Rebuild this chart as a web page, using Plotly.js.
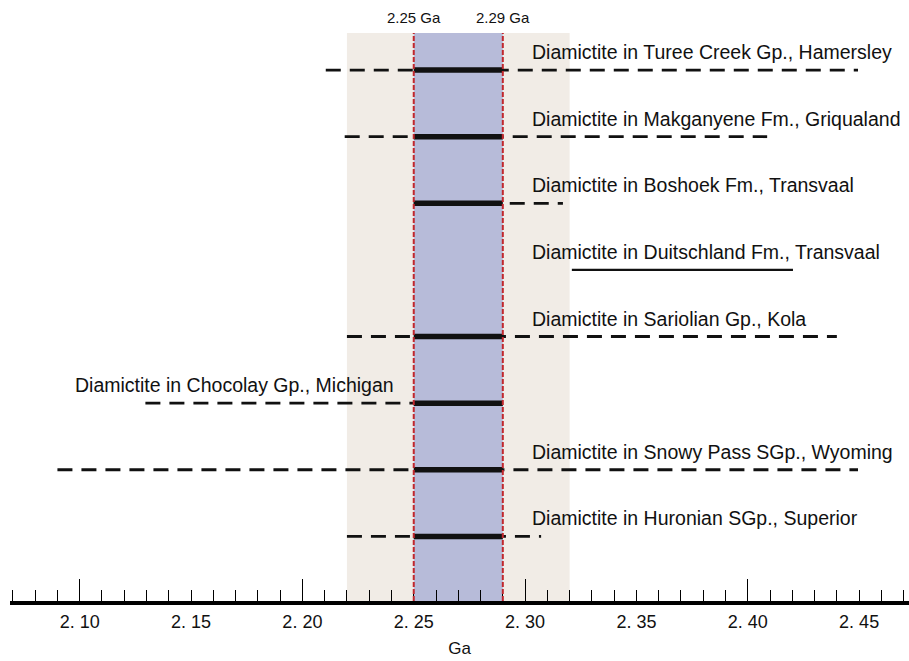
<!DOCTYPE html>
<html>
<head>
<meta charset="utf-8">
<script src="https://cdn.plot.ly/plotly-3.0.1.min.js"></script>
<style>html,body{margin:0;padding:0;background:#fff;}#chart{width:909px;height:661px;}</style>
</head>
<body>
<div id="chart"></div>
<script>
// ---- data ----
const labels = [
  'Diamictite in Turee Creek Gp., Hamersley',
  'Diamictite in Makganyene Fm., Griqualand',
  'Diamictite in Boshoek Fm., Transvaal',
  'Diamictite in Duitschland Fm., Transvaal',
  'Diamictite in Sariolian Gp., Kola',
  'Diamictite in Chocolay Gp., Michigan',
  'Diamictite in Snowy Pass SGp., Wyoming',
  'Diamictite in Huronian SGp., Superior'
];
const rangeStart = [2.2105, 2.219, 2.25, 2.321, 2.22, 2.1295, 2.09, 2.22];
const rangeEnd   = [2.4495, 2.4087, 2.317, 2.4203, 2.44, 2.25, 2.4495, 2.3072];
const rangeKind  = ['dash','dash','dash','solid','dash','dash','dash','dash'];
const inWindow   = [true, true, true, false, true, true, true, true];
const windowAge  = [2.25, 2.29];
const bandAge    = [2.22, 2.32];
const tickVals   = [2.10, 2.15, 2.20, 2.25, 2.30, 2.35, 2.40, 2.45];
const tickText   = ['2. 10','2. 15','2. 20','2. 25','2. 30','2. 35','2. 40','2. 45'];
const windowText = ['2.25 Ga', '2.29 Ga'];

// ---- build ----
const FONT = 'Liberation Sans Narrow, Arial Narrow, Liberation Sans, Arial, sans-serif';
const rows = labels.map((_, i) => i);
const traces = [];
rows.forEach(i => {
  traces.push({
    x: [rangeStart[i], rangeEnd[i]], y: [i, i], xaxis: 'x', yaxis: 'y',
    mode: 'lines', hoverinfo: 'skip', showlegend: false,
    line: {color: '#111', width: rangeKind[i] === 'dash' ? 2.8 : 2.4,
           dash: rangeKind[i] === 'dash' ? '15px,9px' : 'solid'}
  });
  if (inWindow[i]) {
    traces.push({
      x: windowAge, y: [i, i], xaxis: 'x', yaxis: 'y',
      mode: 'lines', hoverinfo: 'skip', showlegend: false,
      line: {color: '#111', width: 5.5}
    });
  }
});
// invisible trace to activate the long-tick overlay axis
traces.push({x: [2.10], y: [0], xaxis: 'x2', yaxis: 'y', mode: 'markers',
  marker: {opacity: 0}, hoverinfo: 'skip', showlegend: false});

const labelX = rows.map(i => i === 5 ? 2.097 : 2.3022);
const annotations = rows.map(i => ({
  x: labelX[i], y: i, xref: 'x', yref: 'y', text: labels[i],
  xanchor: 'left', yanchor: 'middle', yshift: 18, showarrow: false,
  font: {family: FONT, size: 19.5, color: '#111'}
}));
windowAge.forEach((a, k) => annotations.push({
  x: a, y: 1, xref: 'x', yref: 'paper', text: windowText[k], yshift: 16,
  yanchor: 'middle', xanchor: 'center', showarrow: false,
  font: {family: FONT, size: 15, color: '#111'}
}));

const shapes = [
  {type: 'rect', xref: 'x', yref: 'paper', x0: bandAge[0], x1: bandAge[1], y0: 0, y1: 1,
   fillcolor: '#f1ece6', line: {width: 0}, layer: 'below'},
  {type: 'rect', xref: 'x', yref: 'paper', x0: windowAge[0], x1: windowAge[1], y0: 0, y1: 1,
   fillcolor: '#b7bbd9', line: {width: 0}, layer: 'below'}
];
windowAge.forEach(a => shapes.push({
  type: 'line', xref: 'x', yref: 'paper', x0: a, x1: a, y0: 0, y1: 1,
  line: {color: '#c1272d', width: 2, dash: '5px,2px'}, layer: 'above'
}));

const xr = [2.0687, 2.4724];
const layout = {
  width: 909, height: 661,
  margin: {l: 10, r: 0, t: 33, b: 60},
  paper_bgcolor: '#fff', plot_bgcolor: 'rgba(0,0,0,0)',
  showlegend: false,
  xaxis: {
    range: xr, showgrid: false, zeroline: false,
    showline: true, linewidth: 3.5, linecolor: '#000',
    ticks: 'inside', ticklen: 11, tickwidth: 1, tickcolor: '#000',
    tickvals: tickVals, ticktext: tickText,
    tickfont: {family: FONT, size: 18, color: '#111'},
    ticklabelstandoff: 2,
    minor: {dtick: 0.01, tick0: 2.0, ticks: 'inside', ticklen: 11, tickwidth: 1, tickcolor: '#000', showgrid: false},
    title: {text: 'Ga', font: {family: FONT, size: 17, color: '#111'}, standoff: 12}
  },
  xaxis2: {
    overlaying: 'x', anchor: 'y', side: 'bottom', range: xr,
    showgrid: false, zeroline: false, showline: false,
    ticks: 'inside', ticklen: 22, tickwidth: 1, tickcolor: '#000',
    dtick: 0.1, tick0: 2.0, showticklabels: false
  },
  yaxis: {range: [7.97, -0.556], visible: false, showgrid: false, zeroline: false},
  shapes: shapes,
  annotations: annotations
};
Plotly.newPlot('chart', traces, layout, {staticPlot: true, displayModeBar: false});
</script>
</body>
</html>
